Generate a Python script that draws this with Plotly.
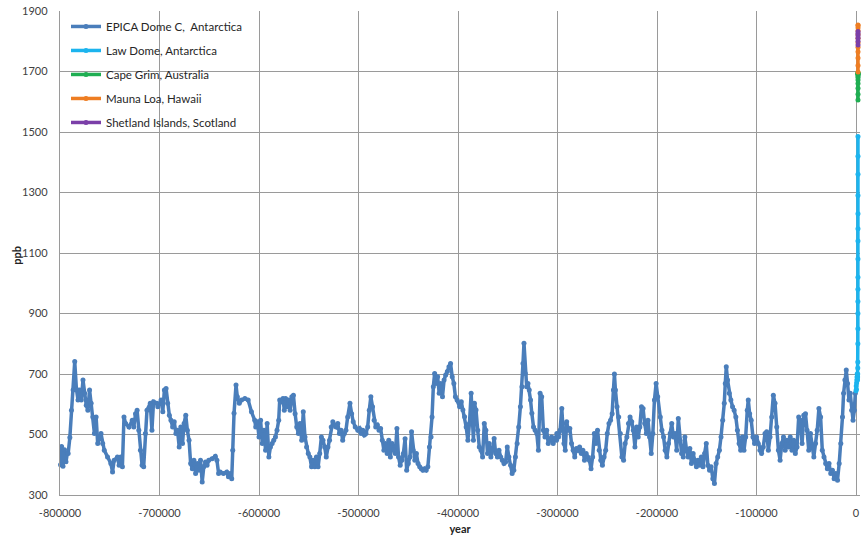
import plotly.graph_objects as go

# ---------------- data ----------------
epica_year = [
    -799500, -798400, -797000, -795500, -794000, -792500, -791800, -790100, -788500, -786800,
    -785200, -783500, -781900, -780200, -778600, -776900, -775300, -773600, -772000, -770300,
    -768700, -767000, -765400, -763700, -762100, -758800, -757100, -755500, -752200, -748900,
    -747200, -745600, -742300, -740600, -739000, -737300, -735700, -734000, -730700, -727400,
    -725800, -724100, -722500, -720800, -719200, -717500, -715900, -714200, -712600, -709300,
    -707600, -706000, -702700,
    -701700, -698400, -696700, -695100, -693400, -691800, -690100, -688500, -686800, -685200,
    -683500, -681900, -680200, -678600, -676900, -675300, -673600, -672000, -670300, -668700,
    -667000, -665400, -663700, -662100, -660400, -658800, -657100, -655500, -653800, -652200,
    -650500, -647200, -643900, -642300, -640600, -639000, -635700, -632400, -630700, -629100,
    -627400, -626400, -625100, -623100, -621800, -619800, -617500, -614200, -610900, -607600,
    -604300,
    -603300, -601700, -600000, -598400, -596700, -595100, -593400, -591800, -590100, -588500,
    -586800, -585200, -583500, -581900, -580200, -579200, -577900, -575900, -574600, -573300,
    -572000, -570300, -568700, -567000, -565400, -563700, -562100, -560400, -558800, -557100,
    -555500, -553800, -552200, -550500, -548900, -547200, -545600, -543900, -542300, -540600,
    -539000, -537300, -535700, -534000, -532400, -530700, -529100, -527400, -525800, -524100,
    -522500, -520800, -519200, -517500, -515900, -514200, -512600, -510900, -508600, -506900,
    -505300, -503300,
    -500700, -499000, -497400, -495700, -494100, -492500, -490800, -489200, -487600, -485900,
    -484300, -482700, -481000, -479400, -477800, -476100, -474500, -472900, -471200, -469600,
    -468000, -466300, -464700, -463000, -461400, -459800, -458100, -456500, -454900, -453200,
    -451600, -450000, -448300, -446700, -445100, -443400, -441800, -440200, -438500, -436900,
    -435300, -433600, -432000, -430300, -428700, -427100, -426100, -424800, -423500, -422200,
    -420500, -418900, -417300, -415600, -414000, -412400, -410700, -409100, -407500, -405800,
    -404200, -402600, -400900,
    -398400, -396700, -395100, -393400, -391800, -390100, -388500, -386800, -385800, -384500,
    -383500, -381900, -380200, -378600, -376900, -375300, -373600, -372000, -370300, -368700,
    -367000, -365400, -363700, -362100, -360400, -358800, -357100, -355500, -353800, -352200,
    -350500, -348900, -347200, -345600, -343900, -342300, -340600, -339000, -337300, -335700,
    -334700, -333700, -332400, -331000, -329700, -328400, -327100, -325800, -324100, -322500,
    -320800, -319200, -317500, -315900, -314200, -312600, -310900, -309300, -307600, -306000,
    -304300, -302700, -301000,
    -300700, -299000, -297400, -295700, -294800, -293500, -292200, -290800, -289200, -287600,
    -285900, -284300, -282700, -281000, -279400, -277800, -276100, -274500, -272900, -271200,
    -269600, -268000, -266300, -264700, -263000, -261400, -259800, -258100, -256500, -254900,
    -253200, -251600, -250000, -248300, -246700, -245100, -243800, -242800, -241800, -240200,
    -238500, -236900, -235300, -233600, -232000, -230300, -228700, -227100, -225400, -223800,
    -222200, -220500, -218900, -217300, -215600, -214000, -212400, -210700, -209100, -207500,
    -205800, -204200, -202600, -200900, -199300,
    -196700, -195100, -193400, -191800, -190100, -188500, -186800, -185200, -183500, -181900,
    -180200, -178600, -176900, -175300, -173600, -172000, -170300, -168700, -167000, -165400,
    -163700, -162100, -160400, -158800, -157100, -155500, -153800, -152200, -150500, -148900,
    -147200, -145600, -143900, -142300, -140600, -139000, -137300, -135700, -134000, -132400,
    -131400, -130400, -129100, -127400, -125800, -124100, -122500, -120800, -119200, -117500,
    -115900, -114200, -112600, -110900, -109300, -108300, -106900, -105300, -103600, -102000,
    -100000,
    -98300, -96600, -94900, -93200, -91500, -89800, -88100, -86400, -84700, -83100,
    -81400, -79700, -78000, -76300, -74600, -72900, -71200, -69500, -67800, -66100,
    -64400, -62700, -61000, -59300, -57600, -55900, -54200, -52500, -50800, -49200,
    -47500, -45800, -44100, -42400, -40700, -39000, -37300, -35600, -33900, -32200,
    -30500, -28800, -27100, -25400, -23700, -22000, -20300, -18600, -16900, -15300,
    -13600, -12500, -11200, -9800, -8500, -7100, -5800, -4400, -3000, -1700,
    -700,
]
epica_ppb = [
    400, 460, 395, 450, 410, 440, 437, 490, 580, 647,
    741, 650, 614, 647, 614, 680, 636, 597, 580, 647,
    603, 558, 503, 558, 470, 503, 470, 448, 426, 404,
    376, 415, 426, 398, 426, 393, 558, 536, 525, 547,
    525, 569, 580, 514, 448, 398, 393, 503, 580, 603,
    514, 608, 603,
    592, 614, 575, 647, 652, 603, 564, 547, 525, 542,
    503, 514, 459, 525, 470, 536, 564, 514, 481, 404,
    387, 415, 371, 404, 382, 415, 343, 393, 409, 398,
    415, 420, 428, 415, 371, 376, 371, 376, 360, 371,
    354, 448, 570, 664, 625, 603, 614, 619, 614, 575,
    547,
    525, 542, 492, 547, 470, 514, 448, 536, 426, 459,
    470, 481, 492, 514, 547, 614, 608, 619, 580, 619,
    592, 614, 580, 625, 630, 569, 525, 503, 536, 481,
    575, 492, 459, 437, 426, 393, 415, 393, 426, 393,
    437, 492, 481, 459, 426, 459, 481, 525, 542, 531,
    525, 536, 503, 514, 481, 503, 514, 558, 603, 569,
    542, 525,
    514, 520, 503, 514, 498, 503, 525, 580, 625, 592,
    547, 525, 531, 514, 520, 481, 448, 470, 437, 481,
    426, 470, 448, 437, 520, 426, 398, 415, 437, 486,
    382, 404, 426, 509, 448, 415, 437, 404, 393, 387,
    382, 387, 382, 393, 459, 492, 558, 658, 702, 669,
    691, 636, 669, 625, 680, 697, 708, 724, 735, 691,
    669, 625, 614,
    592, 608, 581, 559, 525, 481, 536, 636, 570, 481,
    603, 581, 514, 459, 448, 426, 536, 514, 437, 470,
    426, 448, 487, 437, 426, 448, 426, 415, 404, 409,
    459, 426, 398, 371, 382, 426, 470, 525, 592, 658,
    735, 802, 702, 658, 669, 647, 614, 570, 525, 514,
    503, 448, 636, 625, 514, 492, 514, 470, 481, 492,
    470, 487, 481,
    503, 492, 514, 586, 536, 470, 448, 542, 514, 520,
    470, 448, 426, 454, 448, 459, 437, 448, 415, 437,
    426, 415, 387, 426, 503, 470, 514, 448, 415, 398,
    426, 448, 503, 536, 547, 569, 647, 700, 647, 592,
    558, 503, 426, 415, 470, 492, 536, 558, 542, 514,
    459, 525, 492, 525, 592, 586, 536, 503, 547, 492,
    437, 503, 614, 669, 625,
    558, 514, 492, 448, 426, 470, 503, 536, 492, 503,
    448, 553, 481, 437, 426, 492, 448, 426, 454, 404,
    437, 415, 393, 415, 398, 426, 393, 437, 470, 398,
    382, 393, 354, 338, 404, 426, 448, 492, 547, 603,
    669, 724, 680, 636, 614, 592, 580, 558, 514, 470,
    448, 492, 448, 492, 580, 614, 569, 547, 492, 470,
    492,
    470, 448, 437, 459, 503, 509, 448, 492, 558, 630,
    603, 525, 448, 415, 470, 492, 448, 481, 459, 492,
    448, 481, 437, 459, 558, 547, 470, 564, 569, 514,
    448, 503, 459, 426, 470, 514, 586, 558, 448, 426,
    404, 387, 404, 371, 382, 354, 371, 349, 404, 470,
    558, 636, 680, 713, 669, 614, 636, 580, 547, 580,
    636,
]

lawdome_year = [0, 200, 400, 600, 800, 1000, 1200, 1400, 1500, 1600, 1700, 1750, 1800, 1850,
                1875, 1900, 1910, 1920, 1930, 1940, 1950, 1955, 1960, 1965, 1970, 1975, 1980]
lawdome_ppb = [645, 660, 650, 670, 680, 690, 700, 690, 680, 690, 700, 720, 740, 800,
               850, 900, 940, 980, 1020, 1080, 1140, 1180, 1230, 1290, 1360, 1420, 1485]

capegrim_year = [1984, 1986, 1988, 1990, 1992, 1994, 1996, 1998, 2000, 2002, 2004, 2006, 2008]
capegrim_ppb = [1606, 1625, 1645, 1660, 1672, 1680, 1685, 1690, 1692, 1695, 1693, 1692, 1695]

maunaloa_year = [1987, 1989, 1991, 1993, 1995, 1997, 1999, 2001, 2003, 2005, 2007, 2008]
maunaloa_ppb = [1698, 1720, 1745, 1765, 1780, 1795, 1810, 1822, 1835, 1845, 1852, 1854]

shetland_year = [1993, 1996, 1999, 2002, 2005, 2008]
shetland_ppb = [1788, 1800, 1810, 1818, 1826, 1832]

x_ticks = [-800000, -700000, -600000, -500000, -400000, -300000, -200000, -100000, 0]
x_ticktext = ["-800000", "-700000", "-600000", "-500000", "-400000", "-300000", "-200000", "-100000", "0"]
y_ticks = [300, 500, 700, 900, 1100, 1300, 1500, 1700, 1900]

# ---------------- figure ----------------
series = [
    ("EPICA Dome C,  Antarctica", epica_year, epica_ppb, "#4a7ebb"),
    ("Law Dome, Antarctica", lawdome_year, lawdome_ppb, "#1cb4ee"),
    ("Cape Grim, Australia", capegrim_year, capegrim_ppb, "#1fae52"),
    ("Mauna Loa, Hawaii", maunaloa_year, maunaloa_ppb, "#ee7d22"),
    ("Shetland Islands, Scotland", shetland_year, shetland_ppb, "#7b3fa8"),
]

fig = go.Figure()
for i, (name, xs, ys, col) in enumerate(series):
    fig.add_trace(go.Scatter(
        x=xs, y=ys, name=name, mode="lines+markers",
        line=dict(color=col, width=3.5),
        marker=dict(color=col, size=5, symbol="circle"),
        legendgroup="g%d" % i,
        cliponaxis=False,
    ))

grid = "#9a9a9a"
fig.update_layout(
    width=861, height=541,
    margin=dict(l=60, r=1, t=11, b=46),
    paper_bgcolor="white", plot_bgcolor="white",
    font=dict(family="Lato, Open Sans, sans-serif", size=11, color="#404040"),
    showlegend=True,
    legend=dict(
        x=0.0075, y=0.998, xanchor="left", yanchor="top",
        bgcolor="rgba(0,0,0,0)", borderwidth=0,
        font=dict(size=11.5, color="#262626"),
        tracegroupgap=5, itemwidth=30,
    ),
    xaxis=dict(
        range=[-800000, 4000], tickvals=x_ticks, ticktext=x_ticktext,
        showgrid=True, gridcolor=grid, gridwidth=1.3,
        showline=True, linecolor=grid, linewidth=1.3,
        zeroline=False, ticks="", ticklabelstandoff=8, ticklabeloverflow="allow",
        title=dict(text="<b>year</b>", font=dict(size=11, color="#222222"), standoff=6),
    ),
    yaxis=dict(
        range=[300, 1900], tickvals=y_ticks,
        showgrid=True, gridcolor=grid, gridwidth=1.3,
        showline=True, linecolor=grid, linewidth=1.3,
        zeroline=False, ticks="", ticklabelstandoff=9, ticklabeloverflow="allow",
    ),
    annotations=[dict(
        text="<b>ppb</b>", textangle=-90, showarrow=False,
        xref="paper", yref="paper", x=-0.054, y=0.496,
        xanchor="center", yanchor="middle",
        font=dict(size=11, color="#222222"),
    )],
)

fig.write_html(
    "out.html",
    config={"displayModeBar": False},
    post_script="document.body.style.margin='0';document.body.style.overflow='hidden';",
)
